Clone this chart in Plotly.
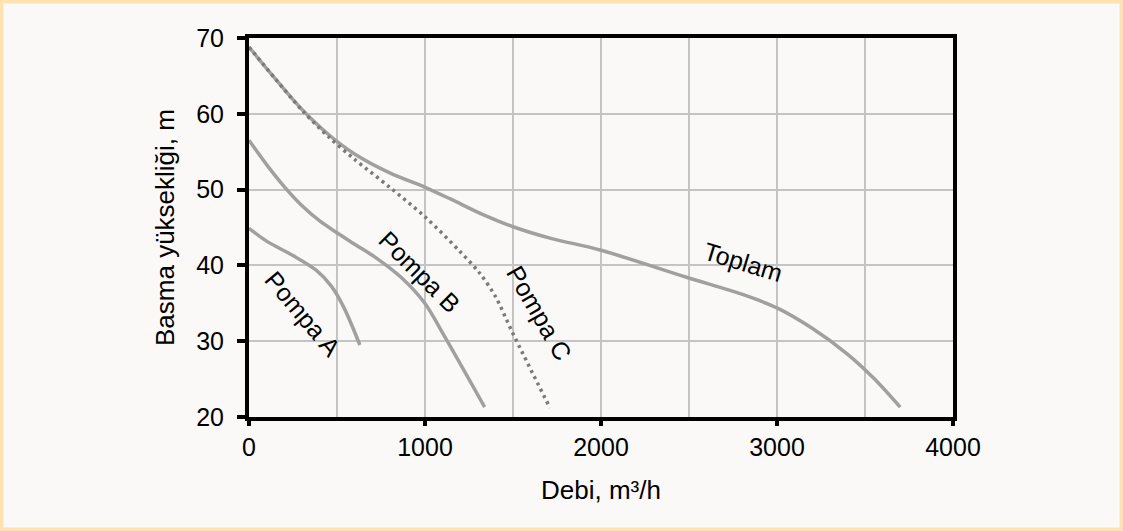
import plotly.graph_objects as go

# ---- data ----
toplam_x = [0, 150, 300, 450, 600, 800, 1000, 1141, 1330, 1500, 1710, 2000, 2490, 2800, 3000, 3200, 3400, 3550, 3700]
toplam_y = [68.8, 64.6, 60.6, 57.3, 54.7, 52.2, 50.3, 48.8, 46.7, 45.1, 43.6, 42.0, 38.4, 36.2, 34.4, 31.7, 28.3, 25.1, 21.3]

pompa_c_x = [0, 150, 300, 450, 600, 800, 1000, 1200, 1310, 1400, 1500, 1710]
pompa_c_y = [68.8, 64.6, 60.5, 57.0, 54.0, 50.3, 46.4, 41.8, 39.0, 35.9, 31.0, 21.2]

pompa_b_x = [0, 100, 200, 300, 400, 500, 600, 734, 870, 999, 1112, 1339]
pompa_b_y = [56.5, 53.3, 50.4, 47.9, 45.9, 44.3, 42.8, 40.8, 38.3, 35.0, 30.6, 21.3]

pompa_a_x = [0, 100, 250, 380, 470, 540, 630]
pompa_a_y = [44.9, 43.2, 41.3, 39.4, 37.2, 34.4, 29.5]

x_ticks = [0, 1000, 2000, 3000, 4000]
y_ticks = [20, 30, 40, 50, 60, 70]

labels = ["Pompa A", "Pompa B", "Pompa C", "Toplam"]

# ---- figure ----
FONT = "Liberation Sans, Arial, sans-serif"
GRAY = "#a0a0a0"
SPL = dict(shape="spline", smoothing=0.9)

fig = go.Figure()
fig.add_trace(go.Scatter(x=toplam_x, y=toplam_y, mode="lines",
                         line=dict(color=GRAY, width=3.5, **SPL)))
fig.add_trace(go.Scatter(x=pompa_c_x, y=pompa_c_y, mode="lines",
                         line=dict(color="#7a7a7a", width=3.5, dash="3px,4px", **SPL)))
fig.add_trace(go.Scatter(x=pompa_b_x, y=pompa_b_y, mode="lines",
                         line=dict(color=GRAY, width=3.5, **SPL)))
fig.add_trace(go.Scatter(x=pompa_a_x, y=pompa_a_y, mode="lines",
                         line=dict(color=GRAY, width=3.5, **SPL)))

label_pos = [(308, 33.6, 50), (970, 39.1, 45), (1649, 33.7, 60), (2810, 40.5, 17)]
for txt, (lx, ly, ang) in zip(labels, label_pos):
    fig.add_annotation(x=lx, y=ly, text=txt, showarrow=False, textangle=ang,
                       font=dict(family=FONT, size=25, color="#000000"))

W, H = 1123, 531
ml, mr, mt, mb = 249, 170, 38, 114
pw, ph = W - ml - mr, H - mt - mb
# outer orange frame
ins = 1.5
fig.add_shape(type="rect", xref="paper", yref="paper",
              x0=(ins - ml) / pw, x1=(W - ins - ml) / pw,
              y0=-(mb - ins) / ph, y1=(H - mb - ins) / ph,
              line=dict(color="#fde3b0", width=4), fillcolor="rgba(0,0,0,0)", layer="below")

fig.update_layout(
    width=W, height=H,
    margin=dict(l=ml, r=mr, t=mt, b=mb, pad=0),
    paper_bgcolor="#faf9f7", plot_bgcolor="#faf9f7",
    showlegend=False,
    font=dict(family=FONT, size=25, color="#000000"),
)
fig.update_xaxes(
    range=[0, 4000], tickvals=x_ticks, ticktext=[str(v) for v in x_ticks],
    showline=True, linecolor="#000000", linewidth=4, mirror=True,
    ticks="outside", ticklen=5, tickwidth=4, tickcolor="#000000",
    showgrid=True, gridcolor="#c4c4c4", gridwidth=1.5,
    minor=dict(dtick=500, showgrid=True, gridcolor="#c4c4c4", gridwidth=1.5, ticks=""),
    zeroline=False,
    tickfont=dict(family=FONT, size=25),
    title=dict(text="Debi, m³/h", font=dict(family=FONT, size=26), standoff=22),
)
fig.update_yaxes(
    range=[20, 70], tickvals=y_ticks, ticktext=[str(v) for v in y_ticks],
    showline=True, linecolor="#000000", linewidth=4, mirror=True,
    ticks="outside", ticklen=8, tickwidth=4, tickcolor="#000000",
    ticklabelstandoff=8,
    showgrid=True, gridcolor="#c4c4c4", gridwidth=1.5,
    zeroline=False,
    tickfont=dict(family=FONT, size=25),
    title=dict(text="Basma yüksekliği, m", font=dict(family=FONT, size=26), standoff=15),
)

fig.write_html("out.html", config={"displayModeBar": False},
               post_script="document.body.style.margin='0px';document.body.style.background='#faf9f7';")
